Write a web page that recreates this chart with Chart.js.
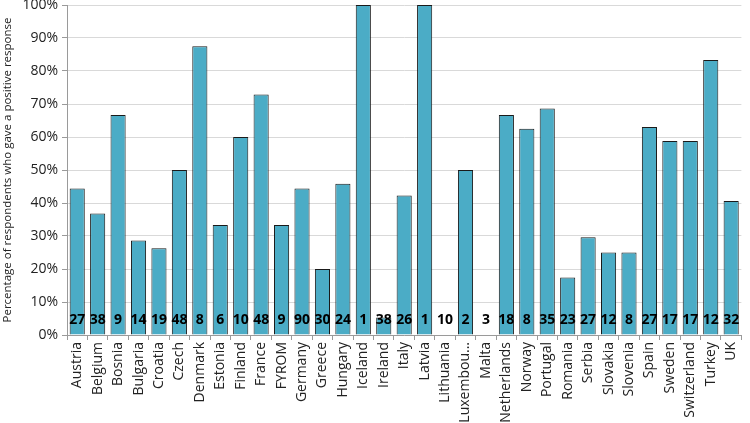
<!DOCTYPE html>
<html>
<head>
<meta charset="utf-8">
<script src="https://cdn.jsdelivr.net/npm/chart.js@4"></script>
<style>
  html, body { margin: 0; padding: 0; background: #fff; }
  #wrap { width: 750px; height: 423px; }
</style>
</head>
<body>
<div id="wrap"><canvas id="chart_positive" width="750" height="423"></canvas></div>
<script>
const countries = ['Austria', 'Belgium', 'Bosnia', 'Bulgaria', 'Croatia', 'Czech', 'Denmark', 'Estonia',
    'Finland', 'France', 'FYROM', 'Germany', 'Greece', 'Hungary', 'Iceland', 'Ireland', 'Italy', 'Latvia',
    'Lithuania', 'Luxembou...', 'Malta', 'Netherlands', 'Norway', 'Portugal', 'Romania', 'Serbia',
    'Slovakia', 'Slovenia', 'Spain', 'Sweden', 'Switzerland', 'Turkey', 'UK'];
const positive = [44.4, 36.8, 66.7, 28.6, 26.3, 50, 87.5, 33.3,
    60, 72.9, 33.3, 44.4, 20, 45.8, 100, 5.3, 42.3, 100,
    0, 50, 0, 66.7, 62.5, 68.6, 17.4, 29.6,
    25, 25, 63, 58.8, 58.8, 83.3, 40.6];
const respondents = [27, 38, 9, 14, 19, 48, 8, 6,
    10, 48, 9, 90, 30, 24, 1, 38, 26, 1,
    10, 2, 3, 18, 8, 35, 23, 27,
    12, 8, 27, 17, 17, 12, 32];
const yTicks = [0, 10, 20, 30, 40, 50, 60, 70, 80, 90, 100];

// draws the respondent count near the bottom of each bar
const countLabels = {
    id: 'countLabels',
    afterDatasetsDraw(chart) {
        const ctx = chart.ctx;
        const meta = chart.getDatasetMeta(0);
        const y = chart.scales.y.getPixelForValue(0) - 15;
        ctx.save();
        ctx.font = 'bold 14px "Open Sans"';
        ctx.fillStyle = '#000';
        ctx.textAlign = 'center';
        ctx.textBaseline = 'middle';
        meta.data.forEach((bar, i) => {
            ctx.fillText(String(respondents[i]), bar.x, y);
        });
        ctx.restore();
    }
};

const config_positive = {
    type: 'bar',
    data: {
        labels: countries,
        datasets: [{
            label: 'Positive response',
            data: positive,
            backgroundColor: '#4BACC6',
            borderColor: '#1a1a1a',
            borderWidth: 1,
            categoryPercentage: 0.74,
            barPercentage: 1
        }]
    },
    options: {
        responsive: false,
        animation: false,
        layout: { padding: { top: 0, right: 2, left: 0, bottom: 0 } },
        plugins: {
            legend: { display: false },
            tooltip: { enabled: false }
        },
        scales: {
            x: {
                offset: true,
                grid: {
                    offset: true,
                    drawOnChartArea: false,
                    color: '#9a9a9a',
                    tickLength: 5
                },
                border: { color: '#9a9a9a' },
                ticks: {
                    autoSkip: false,
                    minRotation: 90,
                    maxRotation: 90,
                    padding: 2,
                    color: '#222',
                    font: { family: '"Open Sans"', size: 14 }
                },
                afterFit: scale => { scale.height = 88; }
            },
            y: {
                min: 0,
                max: 100,
                afterBuildTicks: scale => { scale.ticks = yTicks.map(v => ({ value: v })); },
                grid: {
                    color: '#d9d9d9',
                    tickLength: 5,
                    tickColor: '#9a9a9a'
                },
                border: { color: '#9a9a9a' },
                ticks: {
                    padding: 4,
                    color: '#222',
                    font: { family: '"Open Sans"', size: 14 },
                    callback: v => v + '%'
                },
                title: {
                    display: true,
                    text: 'Percentage of respondents who gave a positive response',
                    color: '#222',
                    padding: { top: 1, bottom: 2 },
                    font: { family: '"Open Sans"', size: 11.5 }
                },
                afterFit: scale => {
                    scale.width = 67;
                    scale.paddingTop = 5;
                }
            }
        }
    },
    plugins: [countLabels]
};

const myChart_positive = new Chart(document.getElementById('chart_positive'), config_positive);
</script>
</body>
</html>
